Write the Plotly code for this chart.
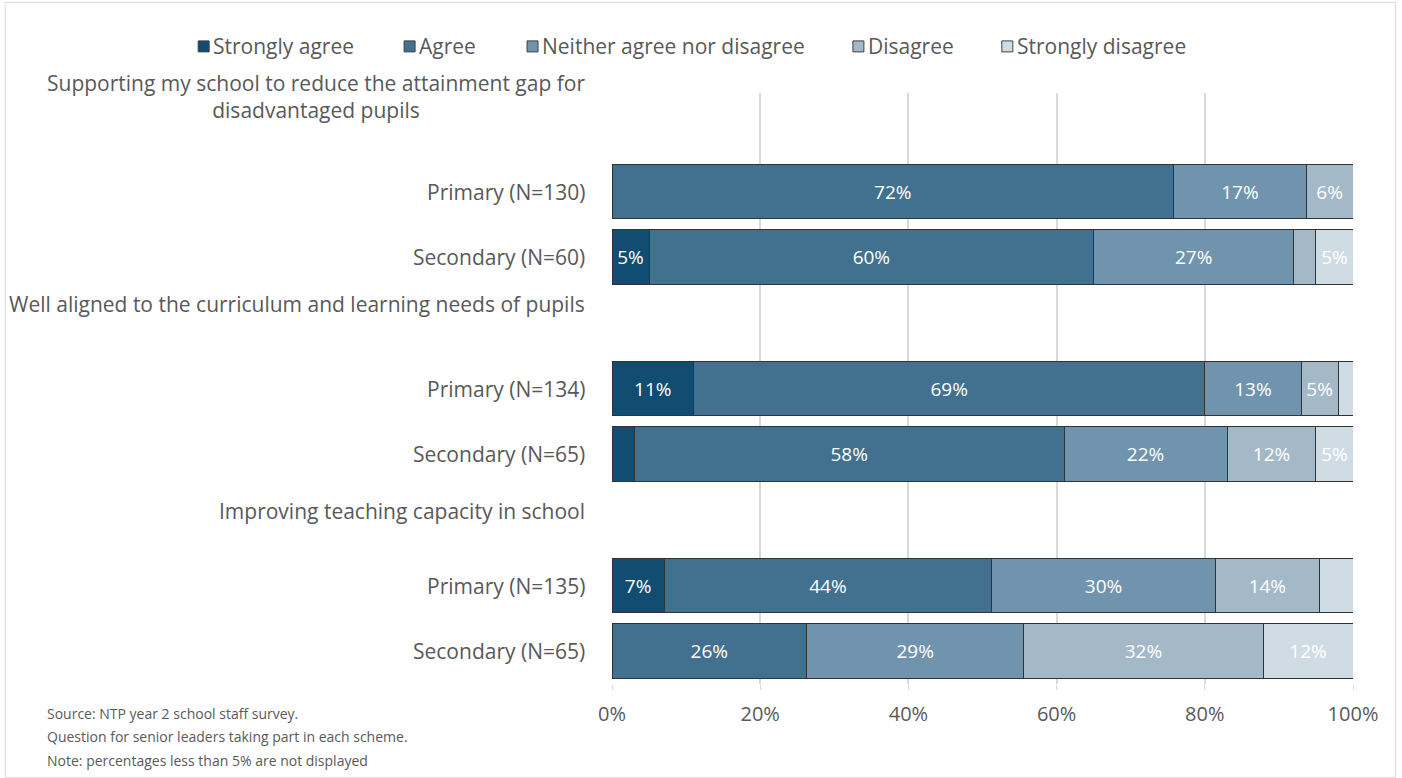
import plotly.graph_objects as go

# Row labels, top to bottom (question headings have no bar)
row_labels = [
    "Supporting my school to reduce the attainment gap for<br>disadvantaged pupils",
    "Primary (N=130)",
    "Secondary (N=60)",
    "Well aligned to the curriculum and learning needs of pupils",
    "Primary (N=134)",
    "Secondary (N=65)",
    "Improving teaching capacity in school",
    "Primary (N=135)",
    "Secondary (N=65)",
]

response_names = ["Strongly agree", "Agree", "Neither agree nor disagree",
                  "Disagree", "Strongly disagree"]

# Percent of respondents per response (None on heading rows)
strongly_agree = [None, 0, 5, None, 11, 3, None, 7, 0]
agree = [None, 72, 60, None, 69, 58, None, 44, 26]
neither = [None, 17, 27, None, 13, 22, None, 30, 29]
disagree = [None, 6, 3, None, 5, 12, None, 14, 32]
strongly_disagree = [None, 0, 5, None, 2, 5, None, 4.5, 12]

x_tick_values = [0, 20, 40, 60, 80, 100]
x_tick_labels = ["0%", "20%", "40%", "60%", "80%", "100%"]

note_lines = [
    "Source: NTP year 2 school staff survey.",
    "Question for senior leaders taking part in each scheme.",
    "Note: percentages less than 5% are not displayed",
]

# ---- styling ----
FONT = "Open Sans"
TEXT_GREY = "#595959"
colors = ["#104d70", "#41718f", "#7094ad", "#a3b9c8", "#d0dce4"]
label_yshift = [29, 0, 0, 19, 0, 0, 9, 0, 0]
legend_key_left = [198, 404, 527, 853, 1002]   # px, left edge of each key square
LEGEND_Y = 46
KEY = 11

W, H = 1402, 778
L, R, T, B = 612, 48.7, 92.6, 94.4
plot_w = W - L - R
plot_h = H - T - B


def px_to_paper_x(px):
    return (px - L) / plot_w


def px_to_paper_y(py):
    return (H - B - py) / plot_h


rows = list(range(len(row_labels)))
series = [strongly_agree, agree, neither, disagree, strongly_disagree]

fig = go.Figure()
for name, vals, col in zip(response_names, series, colors):
    text = ["" if (v is None or v < 5) else f"{v:.0f}%" for v in vals]
    fig.add_trace(go.Bar(
        name=name,
        y=rows,
        x=vals,
        orientation="h",
        marker=dict(color=col, line=dict(color="#333333", width=1)),
        text=text,
        textposition="inside",
        insidetextanchor="middle",
        textangle=0,
        textfont=dict(family=FONT, size=19, color="white"),
        hoverinfo="skip",
        showlegend=False,
    ))

annotations = []
shapes = []

# category labels down the left side
for i, lab in enumerate(row_labels):
    annotations.append(dict(
        text=lab, xref="paper", yref="y", x=px_to_paper_x(587), y=i,
        xanchor="right", yanchor="middle", showarrow=False,
        align="center", yshift=label_yshift[i],
        font=dict(family=FONT, size=21, color=TEXT_GREY),
    ))

# legend row: coloured key square followed by its label
for name, col, left in zip(response_names, colors, legend_key_left):
    shapes.append(dict(
        type="rect", xref="paper", yref="paper",
        x0=px_to_paper_x(left), x1=px_to_paper_x(left + KEY),
        y0=px_to_paper_y(LEGEND_Y + KEY / 2), y1=px_to_paper_y(LEGEND_Y - KEY / 2),
        fillcolor=col, line=dict(color="#404040", width=1),
    ))
    annotations.append(dict(
        text=name, xref="paper", yref="paper",
        x=px_to_paper_x(left + KEY + 2), y=px_to_paper_y(LEGEND_Y),
        xanchor="left", yanchor="middle", showarrow=False,
        font=dict(family=FONT, size=21, color=TEXT_GREY),
    ))

# footnote lines, one annotation each for even spacing
for k, line in enumerate(note_lines):
    annotations.append(dict(
        text=line, xref="paper", yref="paper",
        x=px_to_paper_x(45), y=px_to_paper_y(713 + 23.5 * k),
        xanchor="left", yanchor="middle", showarrow=False, align="left",
        font=dict(family=FONT, size=14, color=TEXT_GREY),
    ))

# outer chart border
shapes.append(dict(
    type="rect", xref="paper", yref="paper",
    x0=px_to_paper_x(5), x1=px_to_paper_x(1396),
    y0=px_to_paper_y(777), y1=px_to_paper_y(2),
    line=dict(color="#d9d9d9", width=1), layer="below",
))

fig.update_layout(
    width=W, height=H, autosize=False,
    margin=dict(l=L, r=R, t=T, b=B),
    paper_bgcolor="white", plot_bgcolor="white",
    barmode="stack", barnorm="percent", bargap=0.163,
    font=dict(family=FONT, color=TEXT_GREY),
    showlegend=False,
    annotations=annotations,
    shapes=shapes,
)

fig.update_xaxes(
    range=[0, 100], tickvals=x_tick_values, ticktext=x_tick_labels,
    showgrid=True, gridcolor="#d9d9d9", gridwidth=1.5,
    zeroline=False, showline=False,
    ticks="outside", ticklen=5, tickcolor="#d9d9d9", tickwidth=1,
    ticklabelstandoff=7,
    tickfont=dict(family=FONT, size=20, color=TEXT_GREY),
    fixedrange=True,
)
fig.update_yaxes(
    range=[len(rows) - 0.5, -0.5], showticklabels=False,
    showgrid=False, zeroline=False, showline=False, ticks="",
    fixedrange=True,
)

fig.write_html("out.html", config=dict(displayModeBar=False))
